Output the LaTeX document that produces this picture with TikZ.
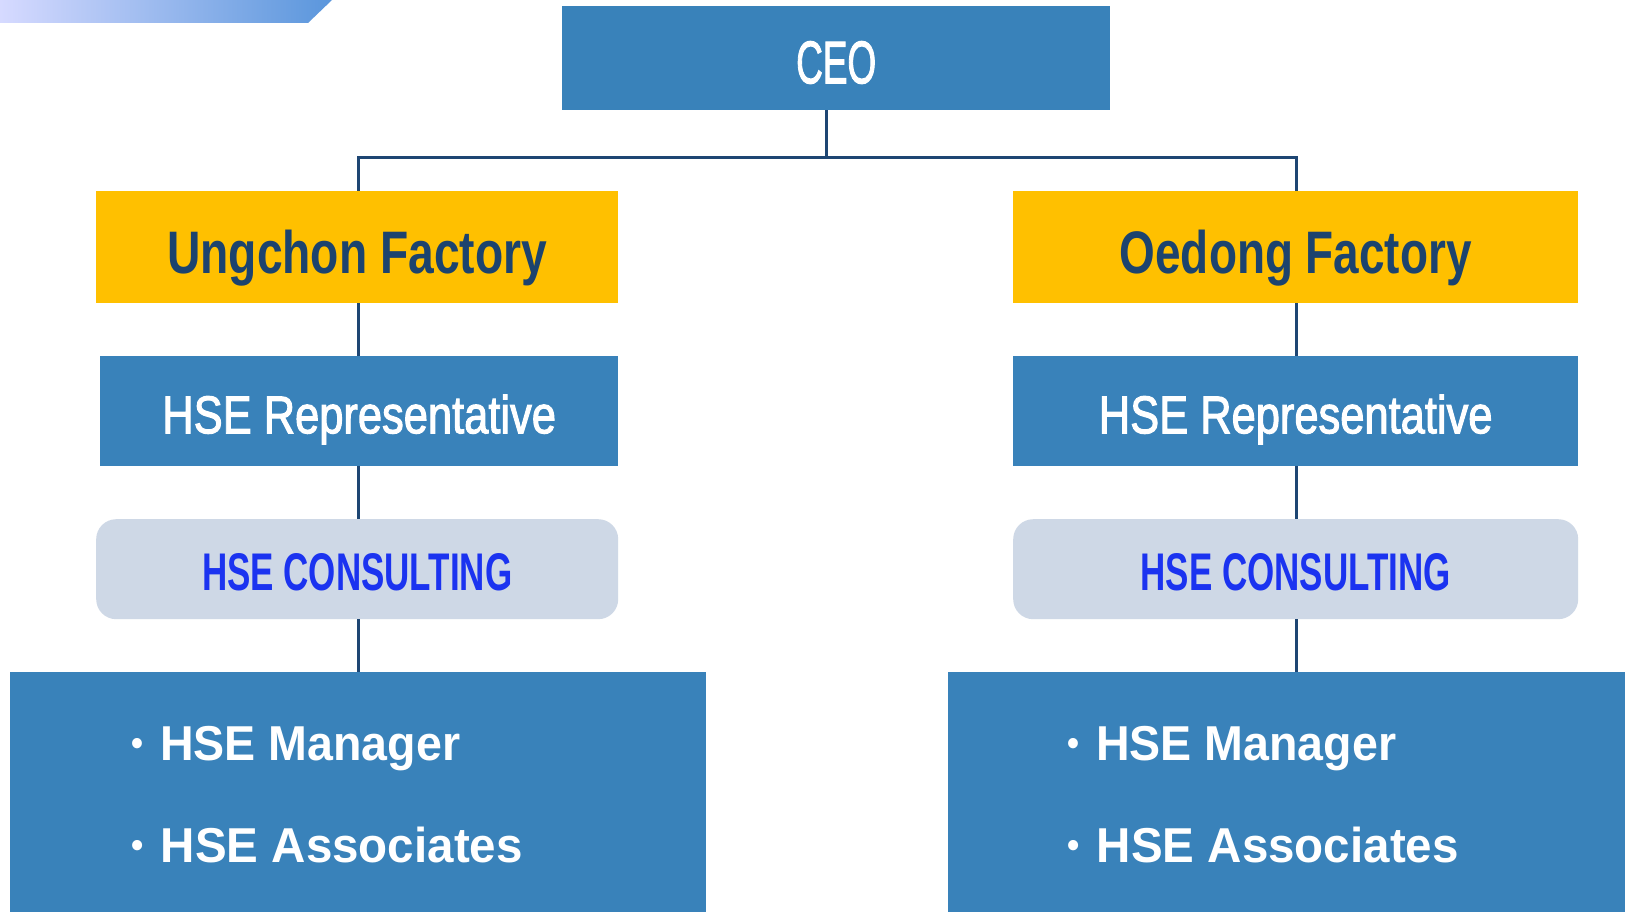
\documentclass[tikz,border=0pt]{standalone}
\usepackage{fontspec}
\setmainfont{Liberation Sans}
\newfontfamily\medfont[FakeBold=2.2]{Liberation Sans}
\usepackage{graphicx}
\definecolor{boxblue}{HTML}{3982BA}
\definecolor{factoryyellow}{HTML}{FFC000}
\definecolor{navytext}{HTML}{1C436E}
\definecolor{consultfill}{HTML}{CED8E6}
\definecolor{consulttext}{HTML}{1B33F0}
\definecolor{linenavy}{HTML}{1E4673}
\definecolor{gradL}{HTML}{D6DAFF}
\definecolor{gradM}{HTML}{B9C3FA}
\definecolor{gradR}{HTML}{5A96DC}
\newcommand\hsq[2]{\scalebox{#1}[1]{#2}}
\newcommand\smallbullet{\raisebox{5pt}{\fontsize{36}{36}\selectfont\textbullet}\hspace{18pt}}
\tikzset{
  box/.style={rectangle, inner xsep=0pt, inner ysep=0pt, anchor=north west},
  bluebox/.style={box, fill=boxblue, text=white},
  factorybox/.style={box, fill=factoryyellow, text=navytext, minimum width=#1, text height=82pt, text depth=30pt},
  repbox/.style={box, fill=boxblue, text=white, minimum width=#1, text height=77pt, text depth=33pt},
  consultbox/.style={box, fill=consultfill, text=consulttext, rounded corners=20pt, minimum width=#1, text height=71pt, text depth=29pt},
  bullettext/.style={anchor=base west, inner sep=0pt, text=white},
  conn/.style={draw=linenavy, line width=3pt},
}
\begin{document}
\begin{tikzpicture}[x=1pt, y=1pt]
\useasboundingbox (0,0) rectangle (1625,-912);
\fill[white] (0,0) rectangle (1625,-912);
% top-left gradient band
\shade[left color=gradL, middle color=gradM, right color=gradR]
  (0,0) -- (332,0) -- (308,-23) -- (0,-23) -- cycle;

% CEO
\node[bluebox, minimum width=548pt, text height=77pt, text depth=27pt] (ceo) at (562,-6)
  {\fontsize{60}{60}\medfont\hsq{0.615}{CEO}};

% factories
\node[factorybox=522pt] (ung) at (96,-191)
  {\fontsize{60}{60}\selectfont\bfseries\hsq{0.77}{Ungchon Factory}};
\node[factorybox=565pt] (oed) at (1013,-191)
  {\fontsize{60}{60}\selectfont\bfseries\hsq{0.765}{Oedong Factory}};

% HSE representatives
\node[repbox=518pt] (repL) at (100,-356)
  {\fontsize{53}{53}\medfont\hsq{0.82}{HSE Representative}};
\node[repbox=565pt] (repR) at (1013,-356)
  {\fontsize{53}{53}\medfont\hsq{0.82}{HSE Representative}};

% HSE consulting
\node[consultbox=522pt] (conL) at (96,-519)
  {\fontsize{53}{53}\selectfont\bfseries\hsq{0.66}{HSE CONSULTING}};
\node[consultbox=565pt] (conR) at (1013,-519)
  {\fontsize{53}{53}\selectfont\bfseries\hsq{0.66}{HSE CONSULTING}};

% bottom staff boxes
\node[bluebox, minimum width=696pt, minimum height=240pt] (staffL) at (10,-672) {};
\node[bluebox, minimum width=677pt, minimum height=240pt] (staffR) at (948,-672) {};

\node[bullettext] (mgrL) at (131,-760)
  {\fontsize{49}{49}\selectfont\bfseries\hsq{0.95}{\smallbullet HSE Manager}};
\node[bullettext] (assL) at (131,-862)
  {\fontsize{49}{49}\selectfont\bfseries\hsq{0.97}{\smallbullet HSE Associates}};
\node[bullettext] (mgrR) at (1067,-760)
  {\fontsize{49}{49}\selectfont\bfseries\hsq{0.95}{\smallbullet HSE Manager}};
\node[bullettext] (assR) at (1067,-862)
  {\fontsize{49}{49}\selectfont\bfseries\hsq{0.97}{\smallbullet HSE Associates}};

% connectors
\coordinate (hub) at (826,-158);
\coordinate (colL) at (358,-158);
\coordinate (colR) at (1296,-158);
\draw[conn] (hub |- ceo.south) -- (hub);
\draw[conn] (colL |- ung.north) -- (colL) -- (colR) -- (colR |- oed.north);
\draw[conn] (colL |- ung.south) -- (colL |- repL.north);
\draw[conn] (colL |- repL.south) -- (colL |- conL.north);
\draw[conn] (colL |- conL.south) -- (colL |- staffL.north);
\draw[conn] (colR |- oed.south) -- (colR |- repR.north);
\draw[conn] (colR |- repR.south) -- (colR |- conR.north);
\draw[conn] (colR |- conR.south) -- (colR |- staffR.north);
\end{tikzpicture}
\end{document}
